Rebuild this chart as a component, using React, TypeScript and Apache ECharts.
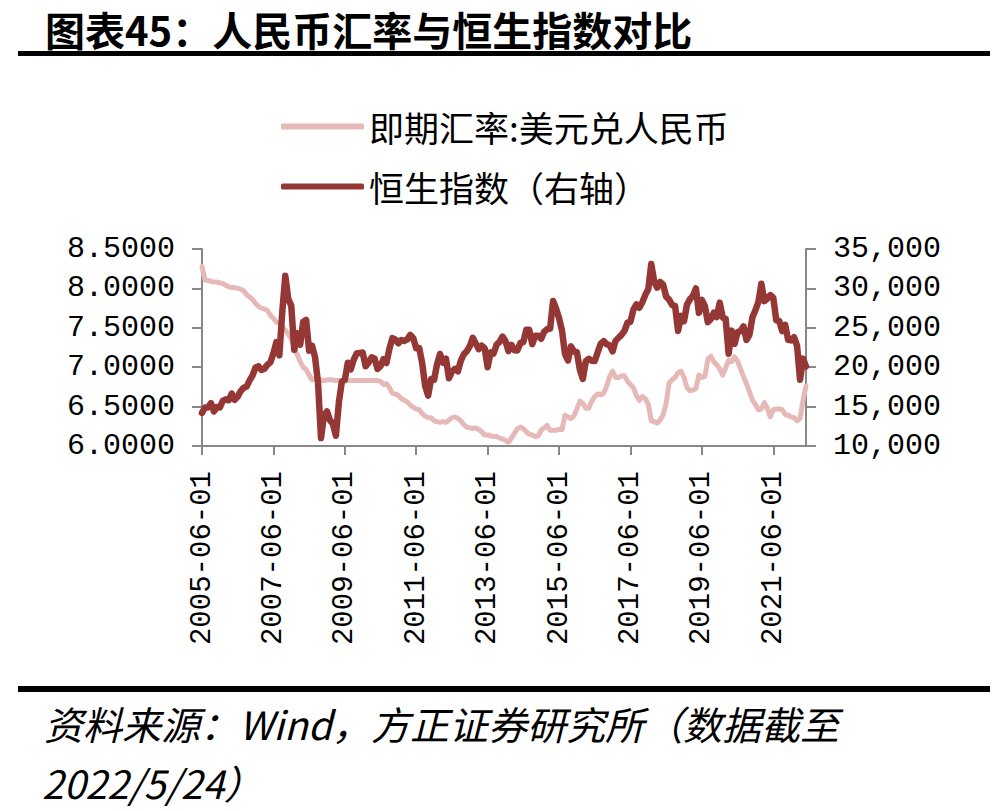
import React, { useEffect, useRef } from "react";
import * as echarts from "echarts";

// Monthly categories, 2005-06 .. 2022-05
const categories: string[] = [];
for (let y = 2005, m = 6; y < 2022 || (y === 2022 && m <= 5); ) {
  categories.push(`${y}-${m < 10 ? "0" + m : m}-01`);
  m += 1;
  if (m > 12) {
    m = 1;
    y += 1;
  }
}

// 即期汇率:美元兑人民币 (left axis), monthly
const fxRate: number[] = [
  8.2765, 8.11, 8.10, 8.09, 8.08, 8.08, 8.07,
  8.06, 8.04, 8.02, 8.01, 8.01, 8.00, 7.99, 7.97, 7.92, 7.89, 7.86, 7.81,
  7.77, 7.75, 7.74, 7.72, 7.66, 7.62, 7.57, 7.56, 7.51, 7.47, 7.42, 7.36,
  7.24, 7.16, 7.07, 7.00, 6.97, 6.90, 6.84, 6.85, 6.83, 6.84, 6.83, 6.84,
  6.84, 6.84, 6.83, 6.83, 6.83, 6.83, 6.83, 6.83, 6.83, 6.83, 6.83, 6.83,
  6.83, 6.83, 6.83, 6.83, 6.83, 6.82, 6.78, 6.79, 6.74, 6.67, 6.66, 6.64,
  6.60, 6.58, 6.56, 6.52, 6.49, 6.47, 6.46, 6.41, 6.38, 6.36, 6.36, 6.32,
  6.31, 6.30, 6.31, 6.30, 6.33, 6.36, 6.37, 6.35, 6.32, 6.27, 6.24, 6.23,
  6.22, 6.23, 6.21, 6.18, 6.14, 6.14, 6.13, 6.12, 6.12, 6.10, 6.09, 6.07,
  6.05, 6.10, 6.16, 6.22, 6.24, 6.22, 6.18, 6.15, 6.14, 6.12, 6.13, 6.20,
  6.23, 6.26, 6.20, 6.20, 6.20, 6.21, 6.21, 6.39, 6.37, 6.35, 6.38, 6.47,
  6.57, 6.54, 6.48, 6.48, 6.57, 6.63, 6.66, 6.65, 6.67, 6.76, 6.88, 6.95,
  6.87, 6.87, 6.89, 6.89, 6.82, 6.78, 6.74, 6.64, 6.58, 6.63, 6.60, 6.53,
  6.32, 6.31, 6.29, 6.33, 6.40, 6.54, 6.80, 6.84, 6.87, 6.93, 6.95, 6.87,
  6.74, 6.70, 6.71, 6.73, 6.90, 6.87, 6.88, 7.10, 7.14, 7.07, 7.03, 6.98,
  6.90, 6.99, 7.09, 7.07, 7.13, 7.08, 6.98, 6.88, 6.79, 6.69, 6.58, 6.53,
  6.46, 6.47, 6.55, 6.48, 6.37, 6.46, 6.47, 6.47, 6.46, 6.40, 6.39, 6.37,
  6.36, 6.32, 6.35, 6.58, 6.76,
];

// 恒生指数 (right axis), monthly
const hsiIndex: number[] = [
  14200, 14880, 14900, 15430, 14390, 14940, 14876,
  15750, 15920, 15800, 16660, 15860, 16270, 16970, 17390, 17540, 18320, 18960, 19965,
  20110, 19650, 19800, 20320, 20630, 21770, 23180, 21500, 27140, 31600, 28640, 27810,
  22200, 24330, 22850, 25760, 26000, 22100, 22730, 21260, 18020, 11000, 13890, 14390,
  13280, 12810, 11300, 15520, 18170, 18380, 20570, 19720, 20960, 21750, 21820, 21870,
  20120, 20610, 21240, 21110, 19770, 20130, 21030, 20540, 22360, 23700, 23500, 23040,
  23450, 23340, 23530, 24100, 23680, 22400, 22440, 20530, 17600, 16400, 18500, 18400,
  20390, 21680, 20560, 21090, 18600, 19440, 19800, 19480, 20840, 21640, 22030, 22660,
  23730, 23020, 22300, 22740, 22390, 20000, 21880, 21730, 22860, 23210, 23880, 23310,
  22040, 22840, 22150, 22130, 23080, 23190, 24760, 24740, 22930, 23998, 23990, 23605,
  24510, 24820, 24900, 28400, 27420, 26250, 24640, 21670, 20850, 22640, 21996, 21914,
  19680, 18500, 20780, 21070, 20820, 20790, 21890, 22980, 23300, 22930, 22790, 22000,
  23360, 23740, 24110, 24615, 25660, 25760, 27320, 27970, 27550, 28250, 29180, 29920,
  33100, 30840, 30090, 30810, 30470, 28960, 28580, 27890, 27790, 24600, 26510, 25850,
  27940, 28630, 29050, 30000, 26900, 28540, 27780, 25720, 26090, 26910, 26350, 28190,
  26310, 26130, 21700, 24640, 22960, 24430, 24600, 25180, 23460, 24110, 26340, 27230,
  28280, 30600, 28380, 28720, 29150, 28830, 25960, 25880, 24580, 25380, 23480, 23400,
  23800, 22710, 18400, 21090, 20100,
];

const fxName = "即期汇率:美元兑人民币";
const hsiName = "恒生指数（右轴）";
const titleText = "图表45：人民币汇率与恒生指数对比";
const sourceLine1 = "资料来源：Wind，方正证券研究所（数据截至";
const sourceLine2 = "2022/5/24）";

const CJK = "'Noto Sans CJK SC', 'Noto Sans', sans-serif";
const MONO = "'Liberation Mono', 'DejaVu Sans Mono', monospace";
const AXIS_COLOR = "#888888";

export default function App() {
  const ref = useRef<HTMLDivElement>(null);

  useEffect(() => {
    if (!ref.current) return;
    const chart = echarts.init(ref.current, undefined, { renderer: "svg" });
    const axisLine = { show: true, lineStyle: { color: AXIS_COLOR, width: 2 } };
    const axisLabelBase = { color: "#000", fontFamily: MONO, fontSize: 29 };
    chart.setOption({
      animation: false,
      backgroundColor: "#fff",
      grid: { left: 202, top: 249, width: 604, height: 197, containLabel: false },
      legend: {
        orient: "vertical",
        left: 276,
        top: 104,
        icon: "roundRect",
        itemWidth: 83,
        itemHeight: 6,
        itemGap: 25,
        textStyle: { fontSize: 35, fontFamily: CJK, color: "#000" },
        data: [fxName, hsiName],
      },
      xAxis: {
        type: "category",
        data: categories,
        boundaryGap: false,
        axisLine,
        axisTick: { show: true, length: 9, interval: 23, lineStyle: { color: AXIS_COLOR, width: 2 } },
        axisLabel: { ...axisLabelBase, interval: 23, rotate: 90, margin: 25 },
        splitLine: { show: false },
      },
      yAxis: [
        {
          type: "value",
          min: 6,
          max: 8.5,
          interval: 0.5,
          axisLine,
          axisTick: { show: true, length: 10, lineStyle: { color: AXIS_COLOR, width: 2 } },
          axisLabel: { ...axisLabelBase, fontSize: 30, margin: 27, formatter: (v: number) => v.toFixed(4) },
          splitLine: { show: false },
        },
        {
          type: "value",
          position: "right",
          min: 10000,
          max: 35000,
          interval: 5000,
          axisLine,
          axisTick: { show: true, length: 10, lineStyle: { color: AXIS_COLOR, width: 2 } },
          axisLabel: {
            ...axisLabelBase,
            fontSize: 30,
            margin: 27,
            formatter: (v: number) => v.toLocaleString("en-US"),
          },
          splitLine: { show: false },
        },
      ],
      series: [
        {
          name: fxName,
          type: "line",
          yAxisIndex: 0,
          data: fxRate,
          symbol: "none",
          itemStyle: { color: "#E6B9B8" },
          lineStyle: { color: "#E6B9B8", width: 5, cap: "round", join: "round" },
        },
        {
          name: hsiName,
          type: "line",
          yAxisIndex: 1,
          data: hsiIndex,
          symbol: "none",
          itemStyle: { color: "#953735" },
          lineStyle: { color: "#953735", width: 6.5, cap: "round", join: "round" },
        },
      ],
      graphic: [
        {
          type: "text",
          style: {
            x: 45,
            y: 29,
            text: titleText,
            fontSize: 40,
            lineHeight: 40,
            fontFamily: CJK,
            fontWeight: "bold",
            verticalAlign: "middle",
            fill: "#000",
          },
        },
        { type: "rect", shape: { x: 18, y: 51, width: 972, height: 5 }, style: { fill: "#000" } },
        { type: "rect", shape: { x: 18, y: 686, width: 972, height: 6 }, style: { fill: "#000" } },
        {
          type: "text",
          style: {
            x: 44,
            y: 723,
            text: sourceLine1,
            fontSize: 39,
            lineHeight: 39,
            fontFamily: CJK,
            fontStyle: "italic",
            verticalAlign: "middle",
            fill: "#000",
          },
        },
        {
          type: "text",
          style: {
            x: 42,
            y: 782,
            text: sourceLine2,
            fontSize: 39,
            lineHeight: 39,
            fontFamily: CJK,
            fontStyle: "italic",
            verticalAlign: "middle",
            fill: "#000",
          },
        },
      ],
    });
    return () => chart.dispose();
  }, []);

  return (
    <div
      ref={ref}
      style={{ position: "absolute", left: 0, top: 0, width: 1001, height: 811, background: "#fff" }}
    />
  );
}
